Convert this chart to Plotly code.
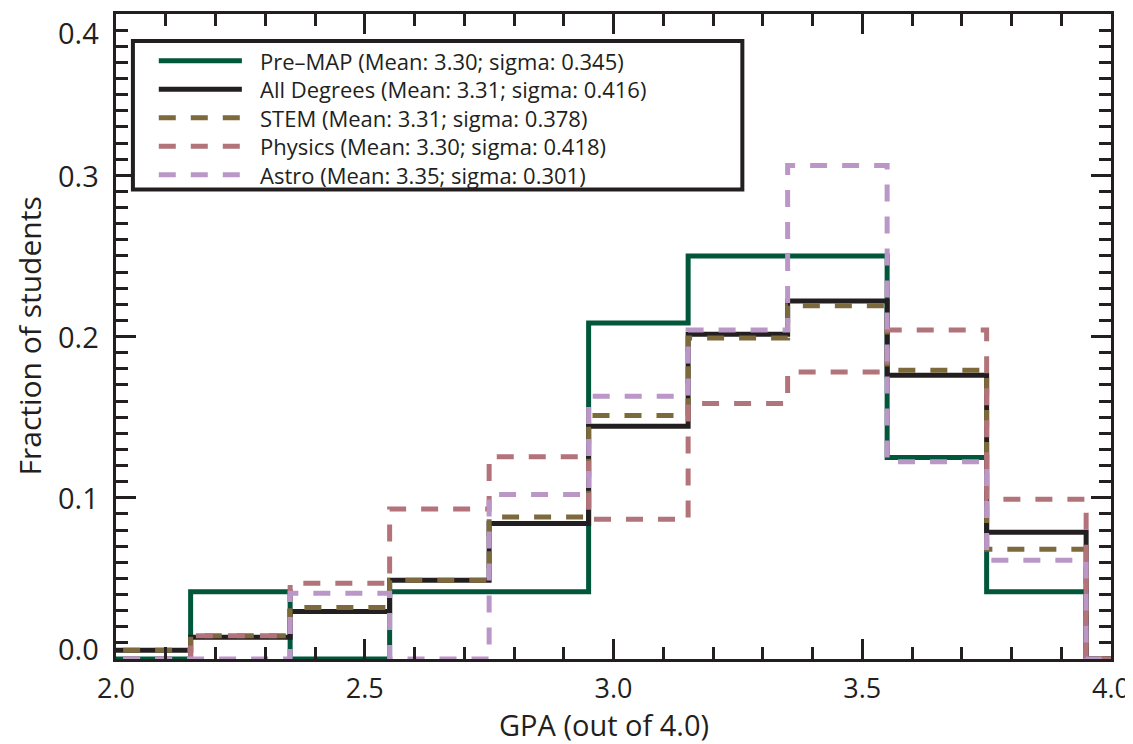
"""GPA 분포 히스토그램 — step 라인"""
import plotly.graph_objects as go

# bin centres (bin width 0.2)
gpa_bins = [2.05, 2.25, 2.45, 2.65, 2.85, 3.05, 3.25, 3.45, 3.65, 3.85]

pre_map     = [0.0, 0.0417, 0.0, 0.0417, 0.0417, 0.2083, 0.25, 0.25, 0.125, 0.0417]
all_degrees = [0.0055, 0.0135, 0.0295, 0.0488, 0.084, 0.1444, 0.2014, 0.222, 0.176, 0.0786]
stem        = [0.0055, 0.0144, 0.032, 0.0488, 0.088, 0.151, 0.199, 0.219, 0.179, 0.068]
physics     = [0.0, 0.0144, 0.047, 0.093, 0.1255, 0.0866, 0.1585, 0.178, 0.204, 0.099]
astro       = [0.0, 0.0, 0.0408, 0.0, 0.102, 0.163, 0.204, 0.306, 0.1224, 0.0612]

series_names = [
    "Pre\u2013MAP (Mean: 3.30; sigma: 0.345)",
    "All Degrees (Mean: 3.31; sigma: 0.416)",
    "STEM (Mean: 3.31; sigma: 0.378)",
    "Physics (Mean: 3.30; sigma: 0.418)",
    "Astro (Mean: 3.35; sigma: 0.301)",
]
x_ticks = [2.0, 2.5, 3.0, 3.5, 4.0]
y_ticks = [0.0, 0.1, 0.2, 0.3, 0.4]

INK = "#231f20"
STYLES = [
    dict(color="#00573b", dash="solid"),
    dict(color=INK, dash="solid"),
    dict(color="#7d6a3c", dash="17px,15px"),
    dict(color="#b3737b", dash="17px,15px"),
    dict(color="#bb97c8", dash="17px,15px"),
]
FONT = "'Open Sans', sans-serif"
BIN_W = 0.2
PLOT_H = 648  # plot area height in px (736 - t - b)


def step_xy(centres, vals):
    """bin 값 -> hv step 좌표 (마지막 bin 뒤에는 0으로 떨어짐)"""
    xs = [c - BIN_W / 2 for c in centres] + [centres[-1] + BIN_W / 2, centres[-1] + BIN_W]
    ys = list(vals) + [0.0, 0.0]
    return xs, ys


fig = go.Figure()
for name, vals, st in zip(series_names, [pre_map, all_degrees, stem, physics, astro], STYLES):
    xs, ys = step_xy(gpa_bins, vals)
    fig.add_trace(go.Scatter(
        x=xs, y=ys, name=name, mode="lines", line_shape="hv",
        line=dict(color=st["color"], dash=st["dash"], width=5),
        showlegend=False,
    ))

axis_common = dict(
    showline=True, linecolor=INK, linewidth=3, mirror="allticks",
    ticks="inside", tickcolor=INK, tickwidth=2.5, ticklen=20,
    showgrid=False, zeroline=False,
)

# 페이지 body 여백(8px) 만큼 크기를 줄임
fig.update_layout(
    width=1125, height=736,
    plot_bgcolor="white", paper_bgcolor="white",
    font=dict(family=FONT, size=28, color=INK),
    margin=dict(l=108, r=21, t=3, b=85),
    xaxis=dict(
        range=[2.0, 4.0], tickvals=x_ticks, ticktext=[f"{v:.1f}" for v in x_ticks],
        minor=dict(dtick=0.1, ticks="inside", ticklen=12, tickwidth=2.5, tickcolor=INK),
        tickfont=dict(size=27), ticklabelstandoff=4,
        **axis_common,
    ),
    yaxis=dict(
        range=[0.0, 0.4], tickvals=y_ticks, showticklabels=False,
        minor=dict(dtick=0.01, ticks="inside", ticklen=12, tickwidth=2.5, tickcolor=INK),
        **axis_common,
    ),
    showlegend=False,
)

# y 눈금 라벨: 양 끝 라벨은 축 안쪽으로 당김 (원본 스타일)
for v in y_ticks:
    if v == y_ticks[-1]:
        anchor, shift = "top", 3
    elif v == y_ticks[0]:
        anchor, shift = "middle", 11
    else:
        anchor, shift = "middle", 0
    fig.add_annotation(
        text=f"{v:.1f}", xref="paper", yref="y", x=0, y=v,
        xanchor="right", yanchor=anchor, xshift=-15, yshift=shift,
        showarrow=False, font=dict(size=29),
    )

fig.add_annotation(
    text="Fraction of students", xref="paper", yref="paper", x=0, y=0.5,
    xanchor="center", yanchor="middle", xshift=-87, textangle=-90,
    showarrow=False, font=dict(size=30),
)
fig.add_annotation(
    text="GPA (out of 4.0)", xref="paper", yref="paper", x=0.49, y=0,
    xanchor="center", yanchor="top", yshift=-45, borderpad=0,
    showarrow=False, font=dict(size=29),
)

# 범례 (박스 + 샘플 라인 + 텍스트)
LEG_X0, LEG_X1, LEG_Y0, LEG_Y1 = 0.017, 0.6295, 0.728, 0.958
ROW_TOP, ROW_STEP = 1 - 47 / PLOT_H, 28.6 / PLOT_H
fig.add_shape(type="rect", xref="paper", yref="paper",
              x0=LEG_X0, x1=LEG_X1, y0=LEG_Y0, y1=LEG_Y1,
              line=dict(color=INK, width=4), fillcolor="white", layer="above")
for i, (name, st) in enumerate(zip(series_names, STYLES)):
    ry = ROW_TOP - i * ROW_STEP
    fig.add_shape(type="line", xref="paper", yref="paper",
                  x0=0.043, x1=0.1265, y0=ry, y1=ry, layer="above",
                  line=dict(color=st["color"], dash=st["dash"], width=5))
    fig.add_annotation(text=name, xref="paper", yref="paper", x=0.1436, y=ry,
                       xanchor="left", yanchor="middle", showarrow=False,
                       borderpad=0, font=dict(size=22))

fig.write_html("out.html")
